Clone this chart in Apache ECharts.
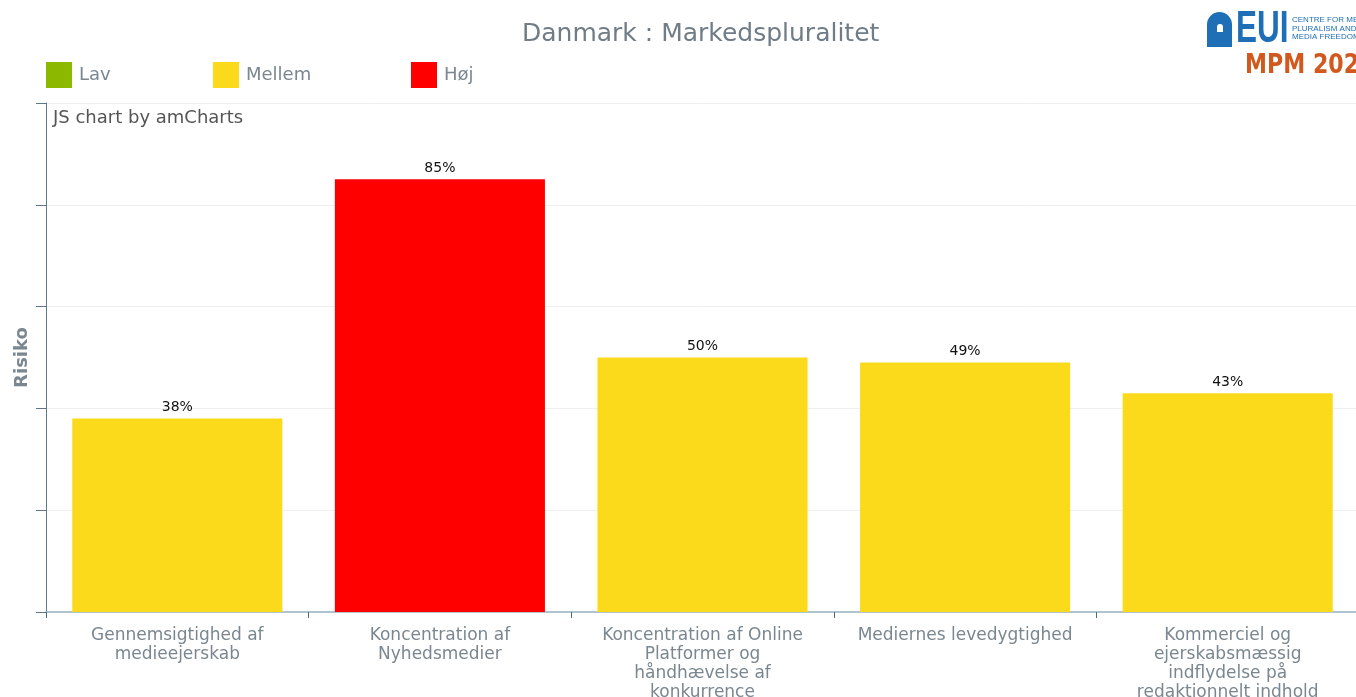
<!DOCTYPE html>
<html>
<head>
<meta charset="utf-8">
<script src="https://cdn.jsdelivr.net/npm/echarts@6/dist/echarts.min.js"></script>
<style>html,body{margin:0;padding:0;background:#fff}#c{width:1356px;height:697px}</style>
</head>
<body>
<div id="c"></div>
<script>
const categories = [
  'Gennemsigtighed af\nmedieejerskab',
  'Koncentration af\nNyhedsmedier',
  'Koncentration af Online\nPlatformer og\nhåndhævelse af\nkonkurrence',
  'Mediernes levedygtighed',
  'Kommerciel og\nejerskabsmæssig\nindflydelse på\nredaktionnelt indhold'
];
const values = [38, 85, 50, 49, 43];
const levels = ['Mellem', 'Høj', 'Mellem', 'Mellem', 'Mellem'];
const levelNames = ['Lav', 'Mellem', 'Høj'];
const levelColors = {'Lav': '#8cb800', 'Mellem': '#fbda1c', 'Høj': '#ff0000'};
const yTicks = [0, 20, 40, 60, 80, 100];

const chart = echarts.init(document.getElementById('c'));
const font = 'DejaVu Sans, Verdana, sans-serif';
const gray = '#7a8790';

const series = levelNames.map(n => ({
  name: n,
  type: 'bar',
  stack: 'r',
  barCategoryGap: '20%',
  itemStyle: {color: levelColors[n]},
  data: values.map((v, i) => levels[i] === n ? v : '-'),
  label: {show: true, position: 'top', distance: 4, formatter: '{c}%', color: '#111', fontSize: 14, fontFamily: font}
}));

const legendLefts = [46, 213, 411];
const legends = levelNames.map((n, i) => ({
  data: [n], left: legendLefts[i], top: 62, padding: 0, itemWidth: 26, itemHeight: 26, itemGap: 0,
  icon: 'rect', selectedMode: false,
  textStyle: {fontSize: 18, color: gray, fontFamily: font, padding: [0, 0, 0, 2]}
}));

chart.setOption({
  animation: false,
  legend: legends,
  grid: {left: 46, top: 103, width: 1313, height: 509, containLabel: false, outerBoundsMode: 'none'},
  xAxis: {
    type: 'category', data: categories,
    axisLine: {lineStyle: {color: '#b0c3cf', width: 2}},
    axisTick: {show: true, alignWithLabel: false, length: 6, lineStyle: {color: '#4d6a7a'}},
    axisLabel: {interval: 0, color: gray, fontSize: 17, fontFamily: font, lineHeight: 19, margin: 14, align: 'center'}
  },
  yAxis: {
    type: 'value', min: yTicks[0], max: yTicks[yTicks.length - 1], interval: 20,
    name: 'Risiko', nameLocation: 'middle', nameGap: 15, nameRotate: 90,
    nameTextStyle: {fontSize: 18, fontWeight: 'bold', color: gray, fontFamily: font},
    axisLine: {show: true, lineStyle: {color: '#5f7888', width: 1}},
    axisTick: {show: true, length: 10, lineStyle: {color: '#5f7888'}},
    axisLabel: {show: false},
    splitLine: {show: true, lineStyle: {color: '#efefef'}}
  },
  series: series,
  graphic: [
    {type: 'text', left: 522, top: 22, style: {text: 'Danmark : Markedspluralitet', fontSize: 25, fill: '#707c86', fontFamily: font}},
    {type: 'text', left: 53, top: 109, style: {text: 'JS chart by amCharts', fontSize: 18, fill: '#555', fontFamily: font}},
    {type: 'rect', shape: {x: 1207, y: 12, width: 25, height: 35, r: [12.5, 12.5, 0, 0]}, style: {fill: '#1f6fb7'}},
    {type: 'rect', shape: {x: 1217, y: 24, width: 6, height: 8, r: [3, 3, 0, 0]}, style: {fill: '#fff'}},
    {type: 'text', x: 1236, y: 30, scaleX: 0.7, style: {x: 0, y: 0, text: 'EUI', fontSize: 45, fontWeight: 'bold', fill: '#1f6fb7', fontFamily: 'Liberation Sans, sans-serif', verticalAlign: 'middle'}},
    {type: 'text', left: 1292, top: 16, style: {text: 'CENTRE FOR MEDIA\nPLURALISM AND\nMEDIA FREEDOM', fontSize: 8, lineHeight: 8.5, fill: '#1f6fb7', fontFamily: 'Liberation Sans, sans-serif'}},
    {type: 'text', x: 1245, y: 66, style: {x: 0, y: 0, text: 'MPM 2022', fontSize: 26, fontWeight: 'bold', fill: '#d2591e', fontFamily: 'DejaVu Sans, sans-serif', verticalAlign: 'middle'}, scaleX: 0.85}
  ]
});
</script>
</body>
</html>
